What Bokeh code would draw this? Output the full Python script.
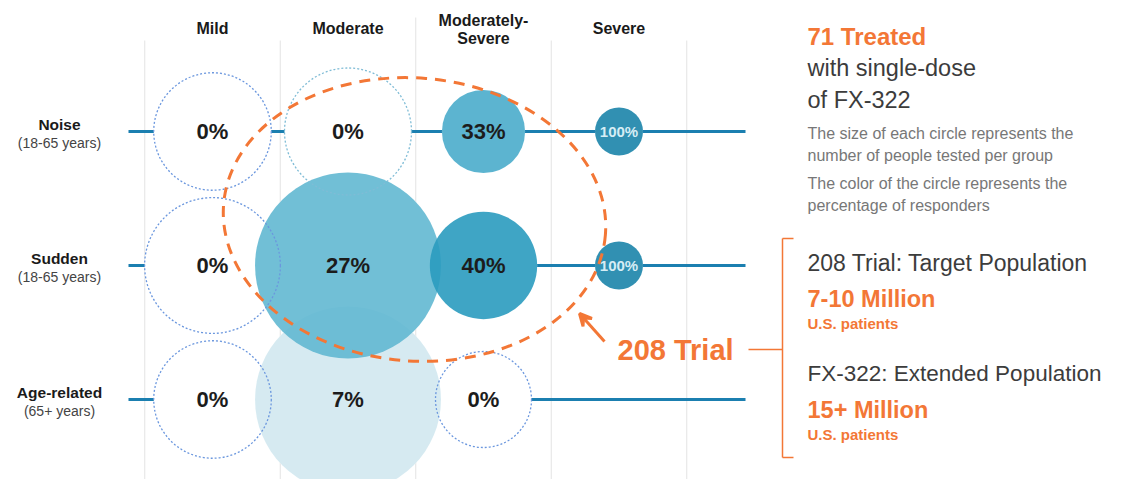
import math
from bokeh.plotting import figure
from bokeh.models import Range1d, ColumnDataSource, Arrow, VeeHead
from bokeh.core.properties import value
from bokeh.embed import file_html
from bokeh.resources import INLINE

# ---------------- data ----------------
severity = ["Mild", "Moderate", "Moderately-\nSevere", "Severe"]
groups = ["Noise", "Sudden", "Age-related"]
group_ages = ["(18-65 years)", "(18-65 years)", "(65+ years)"]
# number of people tested per group (circle area), estimated; total 71
n_noise = [6, 7, 3, 1]
n_sudden = [8, 15, 5, 1]
n_age = [6, 15, 4]
# percentage of responders
pct_noise = [0, 0, 33, 100]
pct_sudden = [0, 27, 40, 100]
pct_age = [0, 7, 0]

# ---------------- layout helpers ----------------
W, H = 1106, 479
XS, YS = 135.5, 134.0          # px per column / per row
def X(xr):
    return (xr - 212) / XS
def Y(yr):
    return (yr - 131) / YS

FONT = value("Liberation Sans")
ORANGE = "#f37736"
LINE = "#1b7fb0"

p = figure(width=W, height=H, x_range=Range1d(X(0), X(W)),
           y_range=Range1d(Y(H), Y(0)), output_backend="svg",
           toolbar_location=None, min_border=0)
p.axis.visible = False
p.grid.visible = False
p.outline_line_color = None
p.background_fill_color = "white"

# vertical separators
p.segment(x0=[i - 0.5 for i in range(5)], x1=[i - 0.5 for i in range(5)],
          y0=[Y(40), Y(40), Y(17), Y(40), Y(40)], y1=[Y(495)] * 5,
          line_color="#e3e3e3", line_width=1)

# row lines
p.segment(x0=[X(128)] * 3, x1=[X(745)] * 3, y0=[0, 1, 2], y1=[0, 1, 2],
          line_color=LINE, line_width=3)

# build circle table
xs, ys, ns, pcts = [], [], [], []
for r, (nn, pp) in enumerate([(n_noise, pct_noise), (n_sudden, pct_sudden), (n_age, pct_age)]):
    for c, (n, pc) in enumerate(zip(nn, pp)):
        xs.append(c); ys.append(r); ns.append(n); pcts.append(pc)

K = 24.0 / XS  # radius scale (data units per sqrt(person))
stops = [(0, "#ffffff"), (7, "#d2e8ef"), (27, "#62b8d2"), (33, "#4aaccb"),
         (40, "#2a9bbf"), (100, "#1b84aa")]
def hex2rgb(h):
    return tuple(int(h[i:i + 2], 16) for i in (1, 3, 5))
def pct_color(v):
    for (a, ca), (b, cb) in zip(stops[:-1], stops[1:]):
        if a <= v <= b:
            t = (v - a) / (b - a) if b > a else 0
            ra, rb = hex2rgb(ca), hex2rgb(cb)
            return "#%02x%02x%02x" % tuple(round(ra[i] + (rb[i] - ra[i]) * t) for i in range(3))
    return stops[-1][1]

order = sorted(range(len(xs)), key=lambda i: (-ns[i], pcts[i]))
zero_idx = [i for i in order if pcts[i] == 0]
pos_idx = [i for i in order if pcts[i] > 0]

zsrc = ColumnDataSource(dict(x=[xs[i] for i in zero_idx], y=[ys[i] for i in zero_idx],
                             r=[K * math.sqrt(ns[i]) for i in zero_idx],
                             lc=["#7fbcd6" if (xs[i] == 1) else "#6b97de" for i in zero_idx]))
psrc = ColumnDataSource(dict(x=[xs[i] for i in pos_idx], y=[ys[i] for i in pos_idx],
                             r=[K * math.sqrt(ns[i]) for i in pos_idx],
                             color=[pct_color(pcts[i]) for i in pos_idx]))

# white fills under all circles (hide row line)
p.circle(x="x", y="y", radius="r", source=zsrc, fill_color="white", line_color=None)
p.circle(x="x", y="y", radius="r", source=psrc, fill_color="white", line_color=None)
# coloured circles
p.circle(x="x", y="y", radius="r", source=psrc, fill_color="color", fill_alpha=0.9,
         line_color=None)
# dotted outlines for 0% circles
p.circle(x="x", y="y", radius="r", source=zsrc, fill_color=None, line_color="lc",
         line_width=1.3, line_dash="2 2")

# percentage labels
lsrc = ColumnDataSource(dict(
    x=xs, y=ys, t=["%d%%" % v for v in pcts],
    c=["#d6edf5" if v == 100 else "#1c1c1c" for v in pcts],
    s=["15px" if v == 100 else "22px" for v in pcts]))
p.text(x="x", y="y", text="t", source=lsrc, text_color="c", text_font_size="s",
       text_font=FONT, text_font_style="bold", text_align="center",
       text_baseline="middle")

# column headers
for c, name in enumerate(severity):
    lines = name.split("\n")
    if len(lines) == 1:
        p.text(x=[c], y=[Y(28)], text=[lines[0]], text_font=FONT, text_font_style="bold",
               text_font_size="16px", text_color="#1a1a1a", text_align="center",
               text_baseline="middle")
    else:
        p.text(x=[c, c], y=[Y(20), Y(38)], text=lines, text_font=FONT,
               text_font_style="bold", text_font_size="16px", text_color="#1a1a1a",
               text_align="center", text_baseline="middle")

# row labels
for r, (g, a) in enumerate(zip(groups, group_ages)):
    p.text(x=[X(59)], y=[r - 0.05], text=[g], text_font=FONT, text_font_style="bold",
           text_font_size="15.5px", text_color="#1a1a1a", text_align="center",
           text_baseline="middle")
    p.text(x=[X(59)], y=[r + 0.085], text=[a], text_font=FONT, text_font_size="14px",
           text_color="#444444", text_align="center", text_baseline="middle")

# 208 trial ellipse
p.ellipse(x=[X(414)], y=[Y(219)], width=[383 / XS], height=[283 / YS], angle=-0.08,
          fill_color=None, line_color=ORANGE, line_width=3, line_dash="11 8")
p.add_layout(Arrow(end=VeeHead(size=12, line_color=ORANGE, fill_color=ORANGE, line_width=3),
                   x_start=X(604), y_start=Y(341), x_end=X(579), y_end=Y(313),
                   line_color=ORANGE, line_width=3))
p.text(x=[X(617)], y=[Y(349)], text=["208 Trial"], text_font=FONT, text_font_style="bold",
       text_font_size="29px", text_color=ORANGE, text_baseline="middle")

# bracket
p.segment(x0=[X(748), X(782), X(782), X(782)], x1=[X(782), X(782), X(793), X(793)],
          y0=[Y(349), Y(238), Y(238), Y(457)], y1=[Y(349), Y(457), Y(238), Y(457)],
          line_color=ORANGE, line_width=1.5)

# right panel texts
def txt(xr, yr, s, size, color, bold=False):
    p.text(x=[X(xr)], y=[Y(yr)], text=[s], text_font=FONT,
           text_font_style="bold" if bold else "normal", text_font_size=size,
           text_color=color, text_baseline="middle")

txt(807, 36, "71 Treated", "24px", ORANGE, True)
txt(807, 67, "with single-dose", "23.5px", "#3c3c3c")
txt(807, 99, "of FX-322", "23.5px", "#3c3c3c")
txt(807, 133, "The size of each circle represents the", "16px", "#777777")
txt(807, 155, "number of people tested per group", "16px", "#777777")
txt(807, 183, "The color of the circle represents the", "16px", "#777777")
txt(807, 205, "percentage of responders", "16px", "#777777")
txt(807, 262, "208 Trial: Target Population", "23px", "#3c3c3c")
txt(807, 298, "7-10 Million", "23.5px", ORANGE, True)
txt(807, 323, "U.S. patients", "15px", ORANGE, True)
txt(807, 373, "FX-322: Extended Population", "22.5px", "#3c3c3c")
txt(807, 409, "15+ Million", "23.5px", ORANGE, True)
txt(807, 434, "U.S. patients", "15px", ORANGE, True)

open("out.html", "w").write(file_html(p, INLINE))
